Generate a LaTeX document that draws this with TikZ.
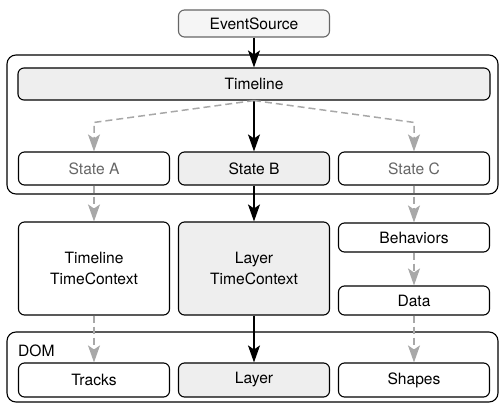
\documentclass[tikz,border=0pt]{standalone}
\usepackage{fontspec}
\setmainfont{TeX Gyre Heros}
\usepackage{tikz}
\usetikzlibrary{arrows.meta,positioning,calc}
\definecolor{boxgray}{HTML}{EEEEEE}
\definecolor{srcgray}{HTML}{F5F5F5}
\definecolor{linegray}{HTML}{A8A8A8}
\definecolor{textgray}{HTML}{666666}
\tikzset{
  group/.style={draw,rounded corners=9pt,line width=1.1pt,inner sep=0pt},
  block/.style={draw,rounded corners=6pt,line width=1.1pt,minimum width=151pt,
    align=center,inner sep=0pt},
  active/.style={block,fill=boxgray},
  idle/.style={block,text=textgray},
  flow/.style={-{Stealth[length=17pt,width=12pt,inset=4pt]},line width=1.5pt},
  weak/.style={flow,linegray,dash pattern=on 7pt off 4pt},
  every node/.style={font=\fontsize{15.6}{21}\selectfont}
}

\begin{document}
\begin{tikzpicture}[x=1pt,y=-1pt]
  \useasboundingbox (0,0) rectangle (499,403);

  % containers
  \node[group,minimum width=491pt,minimum height=139pt] (states) at (252.5,124.5) {};
  \node[group,minimum width=491pt,minimum height=70pt]  (dom)    at (252.5,367) {};
  \node[anchor=west,inner sep=0pt] (domlabel) at (18,351) {DOM};

  \node[block,draw=textgray,fill=srcgray,minimum height=27pt] (src) at (254,23.5) {EventSource};
  \node[active,minimum width=472pt,minimum height=32pt] (tl) at (254,84) {Timeline};

  \node[idle,minimum height=33pt]   (sA) at (94,168.5)  {State A};
  \node[active,minimum height=33pt] (sB) at (254,168.5) {State B};
  \node[idle,minimum height=33pt]   (sC) at (414,168.5) {State C};

  \node[block,minimum height=93pt]  (tlctx) at (94,268.5)  {Timeline\\TimeContext};
  \node[active,minimum height=93pt] (lyctx) at (254,268.5) {Layer\\TimeContext};
  \node[block,minimum height=29pt]  (beh)   at (414,237.5) {Behaviors};
  \node[block,minimum height=29pt]  (data)  at (414,300.5) {Data};

  \node[block,minimum height=34pt]  (tracks) at (94,380)  {Tracks};
  \node[active,minimum height=34pt] (layer)  at (254,380) {Layer};
  \node[block,minimum height=34pt]  (shapes) at (414,380) {Shapes};

  % connectors
  \draw[flow] (src) -- (tl);
  \draw[flow] (tl) -- (sB);
  \draw[weak] (tl.south) -- ([yshift=29pt]sA.north) -- (sA);
  \draw[weak] (tl.south) -- ([yshift=29pt]sC.north) -- (sC);

  \draw[weak] (sA) -- (tlctx);
  \draw[flow] (sB) -- (lyctx);
  \draw[weak] (sC) -- (beh);
  \draw[weak] (beh) -- (data);

  \draw[weak] (tlctx) -- (tracks);
  \draw[flow] (lyctx) -- (layer);
  \draw[weak] (data) -- (shapes);
\end{tikzpicture}
\end{document}
